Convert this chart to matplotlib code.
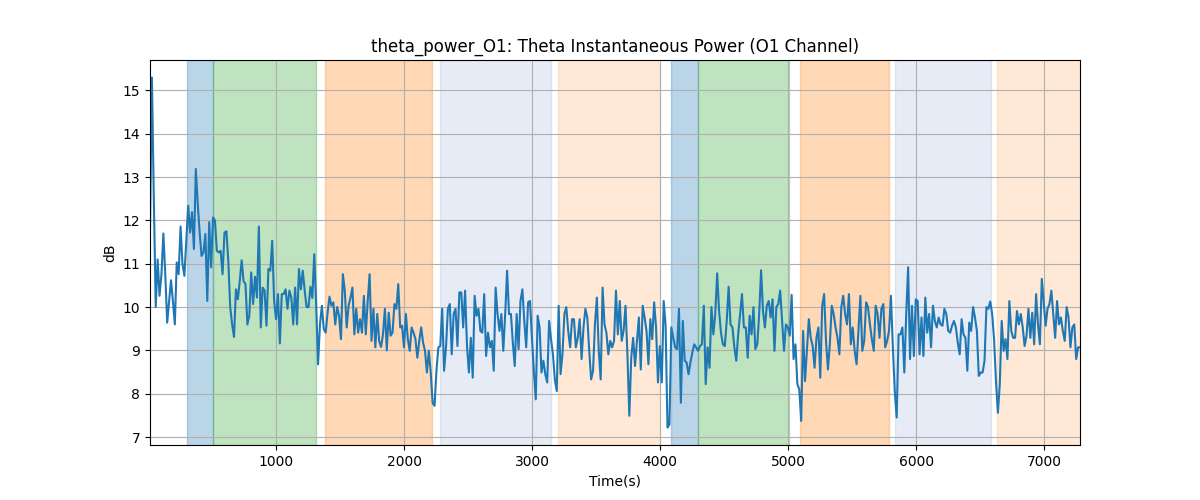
import numpy as np
import matplotlib.pyplot as plt

# theta power readings (dB), sampled evenly over the recording
power_db = [
    11.8, 15.3, 12.5, 10.0, 11.1, 10.26, 10.76, 11.7, 10.76, 9.64, 10.14, 10.62, 10.14, 9.6, 11.03, 10.76,
    11.86, 11.0, 10.72, 11.53, 12.34, 11.72, 12.19, 11.34, 13.19, 12.38, 11.72, 11.18, 11.26, 11.69, 10.14,
    11.96, 10.92, 12.07, 12.0, 11.3, 11.26, 11.3, 10.76, 11.72,
    11.75, 11.07, 10.0, 9.6, 9.31, 10.41, 10.18, 10.6, 11.08, 10.6, 10.53, 9.6, 9.8, 10.8, 10.07, 10.7,
    10.22, 11.86, 9.53, 10.45, 10.38, 9.57, 10.88, 10.84, 11.53, 10.14, 9.72, 10.3, 9.16, 10.3, 10.3, 10.41,
    9.96, 10.38, 10.22, 9.6, 10.45, 9.6, 10.88, 10.41, 10.84,
    10.38, 10.0, 10.0, 10.47, 10.21, 11.22, 10.07, 8.68, 9.6, 10.03, 9.49, 9.41, 9.87, 10.24, 10.03, 10.11,
    9.6, 10.0, 9.8, 9.26, 10.76, 10.38, 9.53, 10.03, 10.22, 10.45, 9.37, 9.96, 9.41, 9.72, 9.41, 10.26,
    9.37, 10.14, 10.76, 9.22, 9.96, 9.07, 9.84, 9.22,
    9.08, 9.37, 9.96, 9.0, 9.87, 9.34, 9.41, 10.07, 9.96, 10.53, 9.53, 9.57, 9.07, 9.84, 9.26, 8.99, 9.53,
    9.41, 9.26, 8.83, 9.22, 9.53, 9.18, 8.99, 8.49, 8.99, 8.49, 7.79, 7.72, 8.53, 9.07, 9.1, 9.96, 8.53,
    9.07, 9.96, 10.07, 8.91, 9.84, 9.96, 9.1, 10.34,
    10.34, 9.53, 10.38, 9.1, 8.49, 9.29, 8.37, 10.26, 9.8, 9.96, 9.45, 9.41, 10.3, 8.87, 9.41, 9.07, 9.22,
    8.53, 10.45, 9.84, 9.45, 9.84, 8.99, 9.84, 10.84, 9.84, 9.84, 9.18, 8.64, 9.84, 9.03, 10.14, 10.41,
    9.68, 9.07, 10.11, 10.14, 9.29, 8.53, 7.87, 9.8,
    9.53, 8.49, 8.76, 8.45, 8.26, 9.68, 9.26, 8.91, 8.33, 8.06, 10.03, 8.45, 8.91, 9.84, 10.0, 9.45, 9.07,
    9.72, 9.72, 9.07, 9.29, 9.72, 8.8, 9.53, 9.96, 9.76, 8.99, 8.33, 8.53, 9.6, 10.22, 8.99, 8.33, 10.45,
    9.6, 9.41, 8.91, 9.22, 9.07, 9.22, 10.38,
    9.37, 10.14, 9.22, 9.45, 10.03, 8.91, 7.49, 8.83, 9.29, 8.64, 9.22, 9.76, 8.56, 10.03, 9.76, 9.45,
    8.68, 9.72, 9.26, 10.11, 9.53, 8.26, 9.1, 8.26, 10.14, 9.57, 7.22, 7.29, 9.53, 9.29, 9.07, 9.03, 9.96,
    7.79, 9.68, 8.76, 8.72, 8.45, 8.72, 8.95, 9.14, 9.07,
    8.99, 9.1, 9.14, 10.03, 8.22, 9.07, 8.6, 10.0, 9.37, 9.84, 10.78, 9.91, 9.41, 9.14, 9.1, 9.68, 10.47,
    9.6, 9.53, 9.07, 8.76, 9.37, 9.84, 10.3, 9.53, 9.53, 8.83, 9.8, 9.37, 10.0, 9.03, 9.14, 9.84, 10.85,
    9.91, 9.53, 10.03, 10.14, 9.76, 10.18, 8.99,
    10.0, 10.07, 10.38, 9.68, 8.99, 9.6, 9.53, 9.34, 10.28, 8.8, 9.14, 8.22, 8.1, 7.37, 9.45, 8.29, 8.99,
    9.72, 9.29, 9.1, 8.6, 9.29, 9.53, 8.37, 10.03, 10.3, 9.22, 8.56, 9.14, 10.03, 9.84, 9.53, 9.29, 8.91,
    10.0, 10.26, 9.84, 9.6, 10.3, 9.14,
    9.53, 8.99, 8.68, 9.49, 10.26, 8.99, 9.22, 10.11, 10.0, 9.6, 9.26, 8.99, 10.03, 9.84, 9.29, 9.96, 10.07,
    9.07, 9.22, 9.45, 10.26, 9.07, 8.06, 7.45, 9.37, 9.37, 9.53, 8.49, 9.84, 10.92, 8.8, 10.03, 8.87, 10.18,
    10.14, 8.91, 9.76, 8.87, 10.22, 9.41, 9.84, 9.07,
    10.03, 9.68, 9.53, 9.76, 9.6, 9.57, 9.96, 9.84, 9.45, 9.41, 9.57, 9.68, 9.53, 9.18, 8.91, 9.72, 9.37,
    9.29, 8.53, 9.64, 9.45, 10.0, 9.76, 9.45, 8.41, 8.49, 8.49, 8.76, 10.0, 9.96, 10.13, 9.84, 9.26, 8.29,
    7.56, 8.22, 9.68, 8.99, 9.26, 8.8, 10.14,
    9.45, 9.29, 9.29, 9.91, 9.6, 9.84, 9.53, 9.1, 9.34, 9.96, 9.29, 9.87, 9.14, 10.3, 9.6, 9.14, 10.65,
    10.11, 9.57, 9.96, 10.07, 10.38, 9.84, 9.29, 10.14, 9.6, 9.76, 9.45, 9.22, 10.0, 9.76, 9.07, 9.53,
    9.6, 8.8, 9.07, 9.07,
]
t_start = 16
t_end = 7280
time_s = np.linspace(t_start, t_end, len(power_db))

# phase windows (start, end, colour, alpha)
span_starts = [305, 508, 1383, 2281, 3203, 4086, 4297, 5094, 5836, 6633]
span_ends = [508, 1312, 2219, 3148, 4000, 4297, 5008, 5789, 6586, 7300]
span_colors = ['tab:blue', 'tab:green', 'tab:orange', '#5b7fc4', 'tab:orange',
               'tab:blue', 'tab:green', 'tab:orange', '#5b7fc4', 'tab:orange']
span_alphas = [0.3, 0.3, 0.3, 0.15, 0.17, 0.3, 0.3, 0.3, 0.15, 0.17]

fig, ax = plt.subplots(figsize=(12, 5), dpi=100)
for s, e, c, a in zip(span_starts, span_ends, span_colors, span_alphas):
    ax.axvspan(s, e, color=c, alpha=a)
ax.plot(time_s, power_db, color='tab:blue', linewidth=1.5)
ax.set_xlim(t_start, t_end)
ax.set_title("theta_power_O1: Theta Instantaneous Power (O1 Channel)")
ax.set_xlabel("Time(s)")
ax.set_ylabel("dB")
ax.grid(True)
fig.savefig("out.png")
